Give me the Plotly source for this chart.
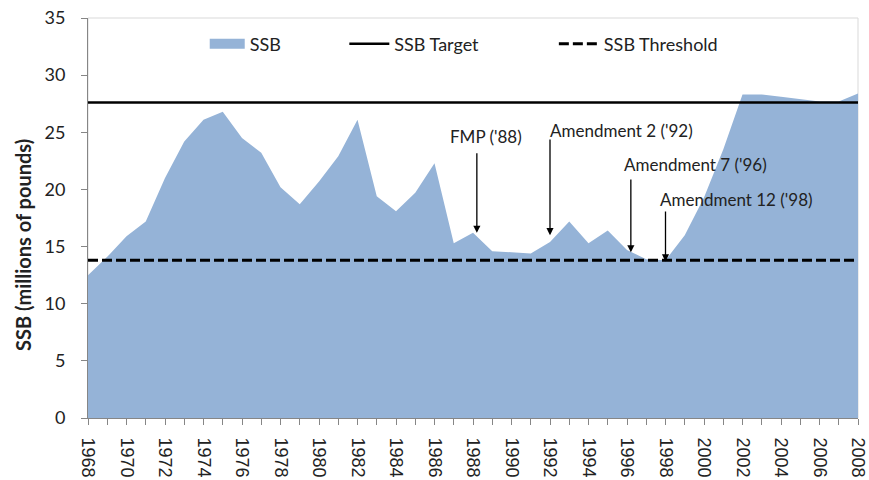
import plotly.graph_objects as go

years = list(range(1968, 2009))
ssb = [12.5, 14.1, 15.9, 17.2, 21.0, 24.2, 26.1, 26.8, 24.5, 23.2,
       20.2, 18.7, 20.7, 22.9, 26.1, 19.4, 18.1, 19.7, 22.3, 15.3,
       16.2, 14.6, 14.5, 14.4, 15.4, 17.2, 15.3, 16.4, 14.7, 13.9,
       13.8, 16.0, 19.3, 23.5, 28.3, 28.3, 28.1, 27.9, 27.7, 27.7, 28.4]
ssb_target = 27.6
ssb_threshold = 13.8
tick_labels = [str(y) if y % 2 == 0 else "" for y in years]

events = ["FMP ('88)", "Amendment 2 ('92)", "Amendment 7 ('96)", "Amendment 12 ('98)"]
event_years = [1988.2, 1992, 1996.2, 1998]

FILL = "#95B3D7"
AXIS = "#868686"
FONT = "Lato"

fig = go.Figure()
fig.add_trace(go.Scatter(x=years, y=ssb, mode="lines", fill="tozeroy",
                         fillcolor=FILL, line=dict(width=0, color=FILL),
                         showlegend=False, hoverinfo="x+y"))
fig.add_trace(go.Scatter(x=years, y=[ssb_target] * len(years), mode="lines",
                         line=dict(color="black", width=2.5), name="SSB Target",
                         legend="legend2"))
fig.add_trace(go.Scatter(x=years, y=[ssb_threshold] * len(years), mode="lines",
                         line=dict(color="black", width=3, dash="10px,4px"),
                         name="SSB Threshold", legend="legend3"))
# legend swatch for the area
fig.add_trace(go.Scatter(x=[None], y=[None], mode="lines",
                         line=dict(color=FILL, width=13), name="SSB",
                         legend="legend"))

legend_common = dict(orientation="h", yanchor="middle", y=0.935,
                     xanchor="left", bgcolor="rgba(0,0,0,0)",
                     font=dict(family=FONT, size=18, color="#222"))
fig.update_layout(
    legend=dict(x=0.1516, itemwidth=35, **legend_common),
    legend2=dict(x=0.3329, itemwidth=40, **legend_common),
    legend3=dict(x=0.605, itemwidth=40, **legend_common),
)

# annotation geometry: (tip y, tail y, text x, text y)
ann_geom = [(16.2, 23.3, 1988.7, 24.6),
            (16.0, 24.5, 1995.7, 25.2),
            (14.5, 21.0, 1999.55, 22.2),
            (13.7, 18.2, 2001.7, 19.1)]
annotations = []
for ev, ex, (tip, tail, tx, ty) in zip(events, event_years, ann_geom):
    annotations.append(dict(x=ex, y=tip, ax=ex, ay=tail, axref="x", ayref="y",
                            xref="x", yref="y", text="", showarrow=True,
                            arrowhead=2, arrowsize=1.1, arrowwidth=1.3,
                            arrowcolor="black"))
    annotations.append(dict(x=tx, y=ty, xref="x", yref="y", text=ev,
                            showarrow=False, xanchor="center", yanchor="middle",
                            font=dict(family=FONT, size=17, color="#222")))
annotations.append(dict(x=0, y=0.4325, xref="paper", yref="paper", xshift=-65,
                        text="<b>SSB (millions of pounds)</b>", textangle=-90,
                        showarrow=False, xanchor="center", yanchor="middle",
                        font=dict(family=FONT, size=20, color="#222")))

fig.update_layout(
    width=869, height=480,
    margin=dict(l=88, r=11, t=18, b=62, autoexpand=False),
    paper_bgcolor="white", plot_bgcolor="white",
    annotations=annotations,
    shapes=[dict(type="rect", xref="paper", yref="paper", x0=0, y0=0, x1=1, y1=1,
                 line=dict(color="#D9D9D9", width=1), layer="below")],
    xaxis=dict(range=[1968, 2008], tickmode="array", tickvals=years,
               ticktext=tick_labels, tickangle=90, ticks="outside", ticklen=6,
               tickcolor=AXIS, showline=True, linecolor=AXIS, linewidth=1,
               showgrid=False, zeroline=False, ticklabelstandoff=9,
               ticklabeloverflow="allow", automargin=False,
               tickfont=dict(family="Liberation Sans", size=18, color="#222")),
    yaxis=dict(range=[0, 35], dtick=5, ticks="outside", ticklen=6,
               tickcolor=AXIS, showline=True, linecolor=AXIS, linewidth=1,
               showgrid=False, zeroline=False, ticklabelstandoff=12,
               automargin=False,
               tickfont=dict(family=FONT, size=18, color="#222")),
)

fig.write_html("out.html", config={"displayModeBar": False},
               post_script="document.body.style.margin='0';document.body.style.overflow='hidden';")
